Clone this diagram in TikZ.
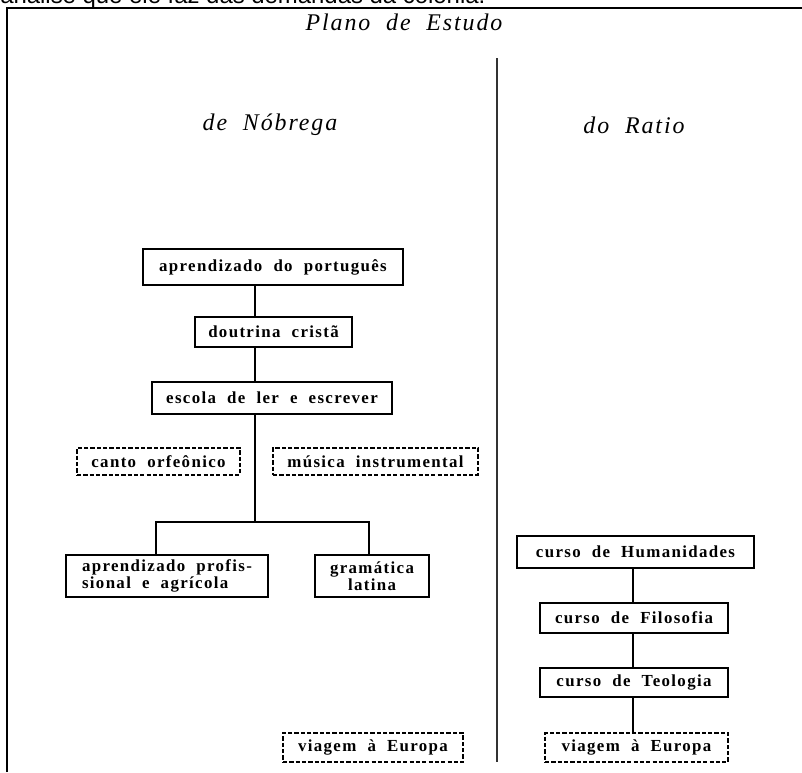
\documentclass[tikz,border=0pt]{standalone}
\usepackage{fontspec}
\setmainfont{Liberation Serif}
\newfontfamily\boxfont[LetterSpace=8, WordSpace=2]{Liberation Serif}
\newfontfamily\headfont[LetterSpace=8, WordSpace=2]{Liberation Serif}
\newfontfamily\leadfont{Liberation Sans}
\usetikzlibrary{positioning, calc}

\begin{document}
\begin{tikzpicture}[
    x=0.025cm, y=-0.025cm,
    every node/.style={font=\boxfont\bfseries\fontsize{12}{12.5}\selectfont},
    dims/.style 2 args={minimum width=#1*0.025cm, minimum height=#2*0.025cm},
    stage/.style={rectangle, draw, line width=1.5pt, inner sep=0pt},
    option/.style={stage, dash pattern=on 3pt off 1.5pt},
    link/.style={line width=1.5pt},
    heading/.style={font=\headfont\itshape\fontsize{17}{18}\selectfont},
    frameline/.style={line width=1.5pt}
]

\useasboundingbox (0,0) rectangle (802,772);
\clip (0,0) rectangle (802,772);

% Cut-off line of the page above
\node[font=\leadfont\fontsize{17}{20}\selectfont, anchor=base west, inner sep=0pt] (lead) at (0,3) {análise que ele faz das demandas da colônia.};

% Frame and divider
\draw[frameline] (7,772) -- (7,8) -- (802,8);
\draw[line width=2pt, black!80] (497,58) -- (497,762);

% Headings
\node[heading] (plan) at (404,22) {Plano de Estudo};
\node[heading] (nob) at (270,125) {de Nóbrega};
\node[heading] (rat) at (634,125) {do Ratio};

% ============ LEFT: plano de Nobrega ============
\node[stage, dims={260}{36}] (port) at (273,267) {aprendizado do português};
\node[stage, dims={157}{30}] (dout) at (273.5,332) {doutrina cristã};
\node[stage, dims={240}{32}] (esc) at (272,398) {escola de ler e escrever};

% Optional courses
\node[option, dims={163}{27}] (canto) at (158.5,461.5) {canto orfeônico};
\node[option, dims={205}{27}] (mus) at (375.5,461.5) {música instrumental};

% Two branches
\node[stage, dims={202}{42}, align=left] (prof) at (167,576) {aprendizado profis-\\sional e agrícola};
\node[stage, dims={114}{42}, align=center] (gram) at (372,576) {gramática\\latina};

\node[option, dims={180}{29}] (viaL) at (373,747.5) {viagem à Europa};

% Connectors
\coordinate (stemL) at (255,0);
\coordinate (fork) at (255,522);
\coordinate (dropL) at (156,0);
\coordinate (dropR) at (369,0);
\draw[link] (port.south -| stemL) -- (dout.north -| stemL);
\draw[link] (dout.south -| stemL) -- (esc.north -| stemL);
\draw[link] (esc.south -| fork) -- (fork);
\draw[link] (prof.north -| dropL) |- (fork) -| (gram.north -| dropR);

% ============ RIGHT: plano do Ratio ============
\node[stage, dims={237}{32}] (hum) at (635.5,552) {curso de Humanidades};
\node[stage, dims={188}{30}] (filo) at (634,618) {curso de Filosofia};
\node[stage, dims={188}{29}] (teol) at (634,682.5) {curso de Teologia};
\node[option, dims={183}{29}] (viaR) at (636.5,747.5) {viagem à Europa};

\coordinate (stemR) at (633,0);
\foreach \a/\b in {hum/filo, filo/teol, teol/viaR} {
    \draw[link] (\a.south -| stemR) -- (\b.north -| stemR);
}

\end{tikzpicture}
\end{document}
